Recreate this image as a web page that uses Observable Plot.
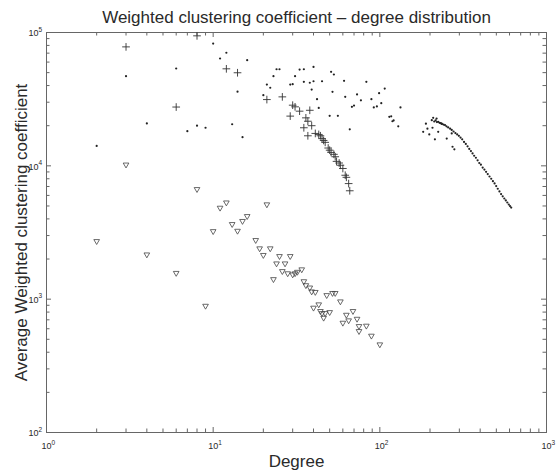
<!DOCTYPE html>
<html><head><meta charset="utf-8">
<script src="https://cdn.jsdelivr.net/npm/d3@7"></script>
<script src="https://cdn.jsdelivr.net/npm/@observablehq/plot@0.6"></script>
<style>
body{margin:0;background:#fff;}
#chart svg{font-family:"Liberation Sans",Arial,Helvetica,sans-serif;}
</style>
</head><body><div id="chart"></div>
<script>
const title = "Weighted clustering coefficient – degree distribution";
const xLabel = "Degree";
const yLabel = "Average Weighted clustering coefficient";

const xMajor = [1, 10, 100, 1000];
const yMajor = [100, 1000, 10000, 100000];
const minorMultipliers = [2, 3, 4, 5, 6, 7, 8, 9];

// Series 1: open down-triangles
const triK = [2,3,4,6,8,9,10,11,12,13,14,15,16,18,19,20,21,22,23,24,25,26,27,28,29,30,31,32,34,35,36,38,39,40,41,43,44,45,46,47,48,50,52,54,58,60,63,65,69,73,75,75,83,89,100];
const triV = [2720,10200,2160,1570,6680,890,3230,4840,5300,3650,3250,3850,4190,2770,2400,2140,5130,2400,1410,1850,2100,1620,1850,1560,2100,1530,1560,1600,1670,1360,1270,1220,1140,861,1130,912,813,784,724,784,1070,798,1110,1110,960,664,762,692,813,711,627,575,631,531,457];

// Series 2: plus markers
const plusK = [3,6,8,12,14,21,26,29,30,31,33,35,36,37,37,38,39,41,43,44,45,46,47,49,50,51,53,54,55,57,58,60,62,63,65,66];
const plusV = [78000,27600,94400,53400,49900,31400,32900,23600,28500,27700,25700,19300,22900,16800,21600,26100,20000,17500,17200,16800,16000,15500,15000,13600,13100,12600,12200,11700,10800,10500,10100,9550,8500,8200,7360,6500];

// Series 3: dots (scattered)
const dotK = [2,3,4,6,7,8,9,10,11,12,13,14,15,16,20,21,22,23,24,25,29,30,31,33,35,35,38,39,40,40,42,43,45,50,51,52,53,56,61,62,66,68,70,73,77,83,89,92,96,99,102,107,114,117,119,121,129,133];
const dotV = [14100,47000,20800,53700,18200,20000,19300,82600,63800,70500,20500,36000,16400,62000,33900,40700,38500,47000,53000,53000,40700,41000,47000,52700,53000,42700,42000,37300,55200,43100,31600,27200,43100,23700,50700,35900,48400,23700,43400,32900,18800,27700,28300,34300,31000,42700,31600,27400,27900,35100,29500,38000,23300,23500,21600,21900,19800,27400];

// Series 4: small dots (high-degree curve)
const curveK = [182,189,193,198,205,207,209,214,219,224,235,252,270,273,280,
  212,216,220,224,228,232,236,241,246,251,257,264,270,277,284,291,298,305,312,320,328,336,344,352,360,368,377,386,395,404,414,424,434,444,455,466,477,488,499,510,522,534,546,558,570,582,594,604,614];
const curveV = [18000,20700,19000,17200,22000,19300,22900,15800,22600,18000,20700,16000,17500,13900,13300,
  21500,21900,21300,21400,21000,20900,20600,20400,20200,19800,19400,19000,18600,18100,17600,17200,16800,16300,15800,15100,14600,14000,13400,12900,12400,11900,11500,11000,10500,10200,9700,9370,9020,8670,8320,8000,7670,7380,7050,6730,6430,6140,5910,5690,5500,5310,5130,4990,4860];

const pairs = (K, V) => K.map((k, i) => ({k, v: V[i]}));
const tri = pairs(triK, triV);
const plus = pairs(plusK, plusV);
const dots = pairs(dotK, dotV);
const curve = pairs(curveK, curveV);

const xMinor = xMajor.slice(0, 3).flatMap(d => minorMultipliers.map(m => m * d));
const yMinor = yMajor.slice(0, 3).flatMap(d => minorMultipliers.map(m => m * d));
const expo = d => String(Math.round(Math.log10(d)));

const W = 560, H = 473, mT = 32, mL = 46, mR = 14, mB = 41;
const frameW = W - mL - mR, frameH = H - mT - mB;

const axisCol = "#666";
const textCol = "#2a2a2a";

// inward ticks on all four sides, as short rules shortened by insets
const tickMarks = [];
for (const [size, xs, ys] of [[5, xMajor, yMajor], [3.5, xMinor, yMinor]]) {
  tickMarks.push(Plot.ruleX(xs, {x: d => d, insetTop: frameH - size, stroke: axisCol, strokeWidth: 1}));
  tickMarks.push(Plot.ruleX(xs, {x: d => d, insetBottom: frameH - size, stroke: axisCol, strokeWidth: 1}));
  tickMarks.push(Plot.ruleY(ys, {y: d => d, insetRight: frameW - size, stroke: axisCol, strokeWidth: 1}));
  tickMarks.push(Plot.ruleY(ys, {y: d => d, insetLeft: frameW - size, stroke: axisCol, strokeWidth: 1}));
}

const chart = Plot.plot({
  width: W,
  height: H,
  marginTop: mT,
  marginLeft: mL,
  marginRight: mR,
  marginBottom: mB,
  style: {background: "#fff", color: textCol},
  x: {type: "log", domain: [1, 1000], axis: null},
  y: {type: "log", domain: [100, 100000], axis: null},
  marks: [
    Plot.frame({stroke: axisCol, strokeWidth: 1}),
    ...tickMarks,
    Plot.text(xMajor, {x: d => d, frameAnchor: "bottom", lineAnchor: "middle", text: () => "10", dy: 14, fontSize: 9, fill: textCol}),
    Plot.text(xMajor, {x: d => d, frameAnchor: "bottom", lineAnchor: "middle", text: expo, dy: 10, dx: 5, textAnchor: "start", fontSize: 6.5, fill: textCol}),
    Plot.text(yMajor, {y: d => d, frameAnchor: "left", lineAnchor: "middle", text: () => "10", textAnchor: "end", dx: -8, dy: 1, fontSize: 9, fill: textCol}),
    Plot.text(yMajor, {y: d => d, frameAnchor: "left", lineAnchor: "middle", text: expo, textAnchor: "start", dx: -8, dy: -3, fontSize: 6.5, fill: textCol}),
    Plot.text([title], {frameAnchor: "top", lineAnchor: "middle", textAnchor: "middle", dy: -15, fontSize: 17, fill: textCol}),
    Plot.text([xLabel], {frameAnchor: "bottom", lineAnchor: "middle", textAnchor: "middle", dy: 29, fontSize: 17, fill: textCol}),
    Plot.text([yLabel], {frameAnchor: "left", lineAnchor: "middle", textAnchor: "middle", dx: -25, rotate: -90, fontSize: 17, fill: textCol}),
    Plot.dot(tri, {x: "k", y: "v", symbol: "triangle", rotate: 180, r: 2.1, stroke: "#444", strokeWidth: 0.8, fill: "none"}),
    Plot.dot(plus, {x: "k", y: "v", symbol: "plus", r: 2.6, stroke: "#333", strokeWidth: 0.9}),
    Plot.dot(dots, {x: "k", y: "v", r: 1.1, fill: "#222", stroke: "none"}),
    Plot.dot(curve, {x: "k", y: "v", r: 1.1, fill: "#222", stroke: "none"})
  ]
});
document.getElementById("chart").appendChild(chart);
</script>
</body></html>
